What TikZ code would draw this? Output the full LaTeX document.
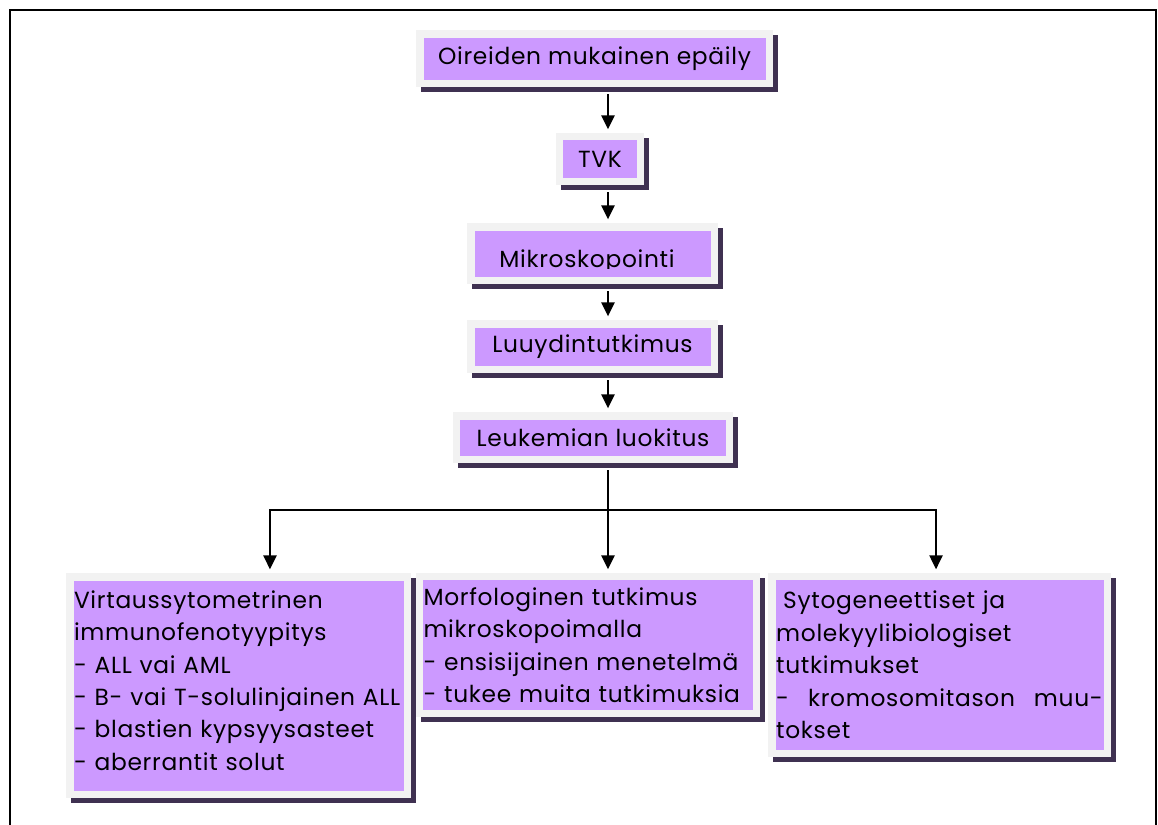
\documentclass[tikz,border=0pt]{standalone}
\usepackage{fontspec}
\setmainfont{Poppins}[LetterSpace=3]
\usetikzlibrary{arrows.meta, positioning}

\definecolor{boxfill}{HTML}{CC99FF}
\definecolor{boxrim}{HTML}{F2F2F2}
\definecolor{boxshade}{HTML}{3F3151}

\tikzset{
  box/.style={rectangle, fill=boxfill, draw=boxrim, line width=5.6pt, inner sep=0pt,
    preaction={draw=boxshade, fill=boxshade, line width=5.6pt,
      transform canvas={xshift=3.5pt, yshift=-3.5pt}},
    font=\fontsize{17.5}{24.3}\selectfont},
  wide/.style={box, text width=246.75pt, align=left},
  flow/.style={-{Triangle[length=10.5pt, width=10pt]}, line width=1.2pt,
    shorten <=5.5pt, shorten >=2.8pt}
}

\begin{document}
\begin{tikzpicture}[x=0.75pt, y=-0.75pt]
    \useasboundingbox (0,0) rectangle (1158,825);
    % Frame
    \draw [line width=2pt] (10,825) -- (10,10) -- (1156,10) -- (1156,825);

    % Nodes
    \node [box, minimum width=262.1pt, minimum height=37.1pt] (oire) at (594.5,58.5) {Oireiden mukainen epäily};
    \node [box, minimum width=60.4pt, minimum height=33.4pt] (tvk) at (600,159) {TVK};
    \node [box, minimum width=182.6pt, minimum height=40.1pt] (mikro) at (592.5,253.5) {};
    \node [box, minimum width=182.6pt, minimum height=34.1pt] (luuy) at (592.5,346.5) {Luuydintutkimus};
    \node [box, minimum width=204.4pt, minimum height=32.6pt] (leuk) at (593,437.5) {Leukemian luokitus};

    \node [wide, minimum width=253.1pt, minimum height=163.1pt] (virt) at (238.5,685.5)
      {Virtaussytometrinen\\ immunofenotyypitys\\ - ALL vai AML\\ - B- vai T-solulinjainen ALL\\ - blastien kypsyysasteet\\ - aberrantit solut\\[-16.8pt]\mbox{}};
    \node [wide, minimum width=252.4pt, minimum height=102.4pt] (morf) at (588,645)
      {Morfologinen tutkimus\\ mikroskopoimalla\\ - ensisijainen menetelmä\\ - tukee muita tutkimuksia};
    \node [wide, text width=245pt, minimum width=251.6pt, minimum height=132.4pt] (syto) at (939.5,665)
      {\hspace*{0.3em}Sytogeneettiset ja\\ molekyylibiologiset\\ tutkimukset\\ - \hfill kromosomitason \hfill muu-\\ tokset};

    % Text cut at the line
    \begin{scope}
      \clip (mikro.north west) rectangle (mikro.east |- 0,268);
      \node [anchor=base, font=\fontsize{17.5}{24.3}\selectfont] (mikrotext) at (587,267) {Mikroskopointi};
    \end{scope}

    % Arrows
    \coordinate (spine) at (608,0);
    \coordinate (split) at (608,510);
    \draw [flow] (oire.south -| spine) -- (tvk.north -| spine);
    \draw [flow] (tvk.south -| spine) -- (mikro.north -| spine);
    \draw [flow] (mikro.south -| spine) -- (luuy.north -| spine);
    \draw [flow] (luuy.south -| spine) -- (leuk.north -| spine);
    \draw [flow] (leuk.south -| spine) -- (morf.north -| spine);
    \draw [flow, shorten <=0pt] (split) -| ([xshift=23.6pt]virt.north);
    \draw [flow, shorten <=0pt] (split) -| ([xshift=-2.6pt]syto.north);

  \end{tikzpicture}
\end{document}
